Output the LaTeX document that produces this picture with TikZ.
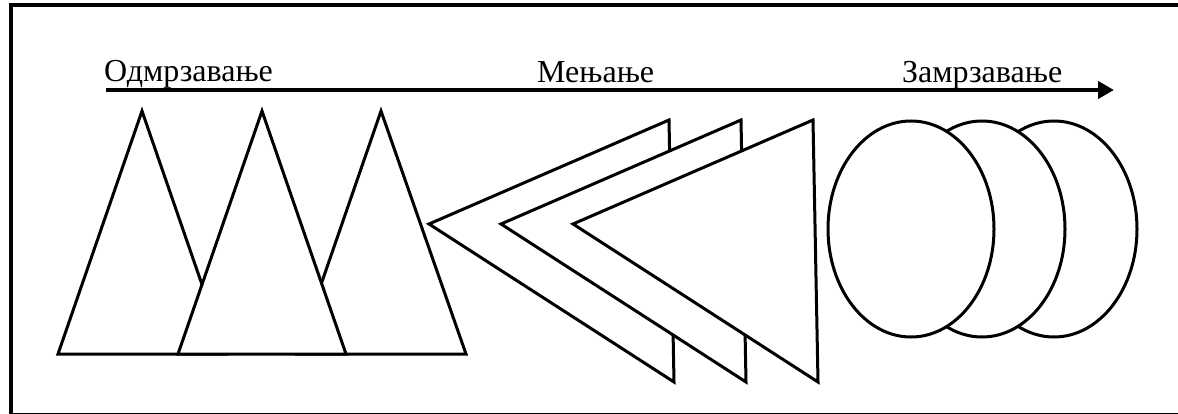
\documentclass[tikz,border=0pt]{standalone}
\usepackage{fontspec,tikz}
\usetikzlibrary{arrows.meta}
\setmainfont{Liberation Serif}
\tikzset{outline/.style={line width=3pt,line join=miter,fill=white},
  phase/.style={anchor=base west,inner sep=0pt,font=\fontsize{32.0}{38.4}\selectfont}}

\begin{document}
\begin{tikzpicture}[x=1pt,y=-1pt]
\path[use as bounding box] (0,0) rectangle (1178.0,414.0);
% frame
\draw[line width=3.5pt] (1190,5) -- (11,5) -- (11,414.5) -- (1190,414.5);
% phases
\node[phase] (unfreeze) at (104,82) {Одмрзавање};
\node[phase] (change) at (537,83) {Мењање};
\node[phase] (refreeze) at (902,83) {Замрзавање};
\coordinate (tstart) at (106,90);
\coordinate (tend) at (1114,90);
\draw[line width=4pt,-{Triangle[length=16pt,width=17pt]}] (tstart) -- (tend);
% unfreezing: triangles
\draw[outline] (142,111) -- (58,354) -- (226,354) -- cycle;
\draw[outline] (381,111) -- (297,354) -- (466,354) -- cycle;
\draw[outline] (262,111) -- (178,354) -- (346,354) -- cycle;
% changing: arrows
\draw[outline] (429,224) -- (669,120) -- (674,382) -- cycle;
\draw[outline] (501,224) -- (741,120) -- (746,382) -- cycle;
\draw[outline] (573,224) -- (813,120) -- (818,382) -- cycle;
% refreezing: discs
\draw[outline] (1054,229) ellipse [x radius=83,y radius=108];
\draw[outline] (982,229) ellipse [x radius=83,y radius=108];
\draw[outline] (911,229) ellipse [x radius=83,y radius=108];
\end{tikzpicture}
\end{document}
